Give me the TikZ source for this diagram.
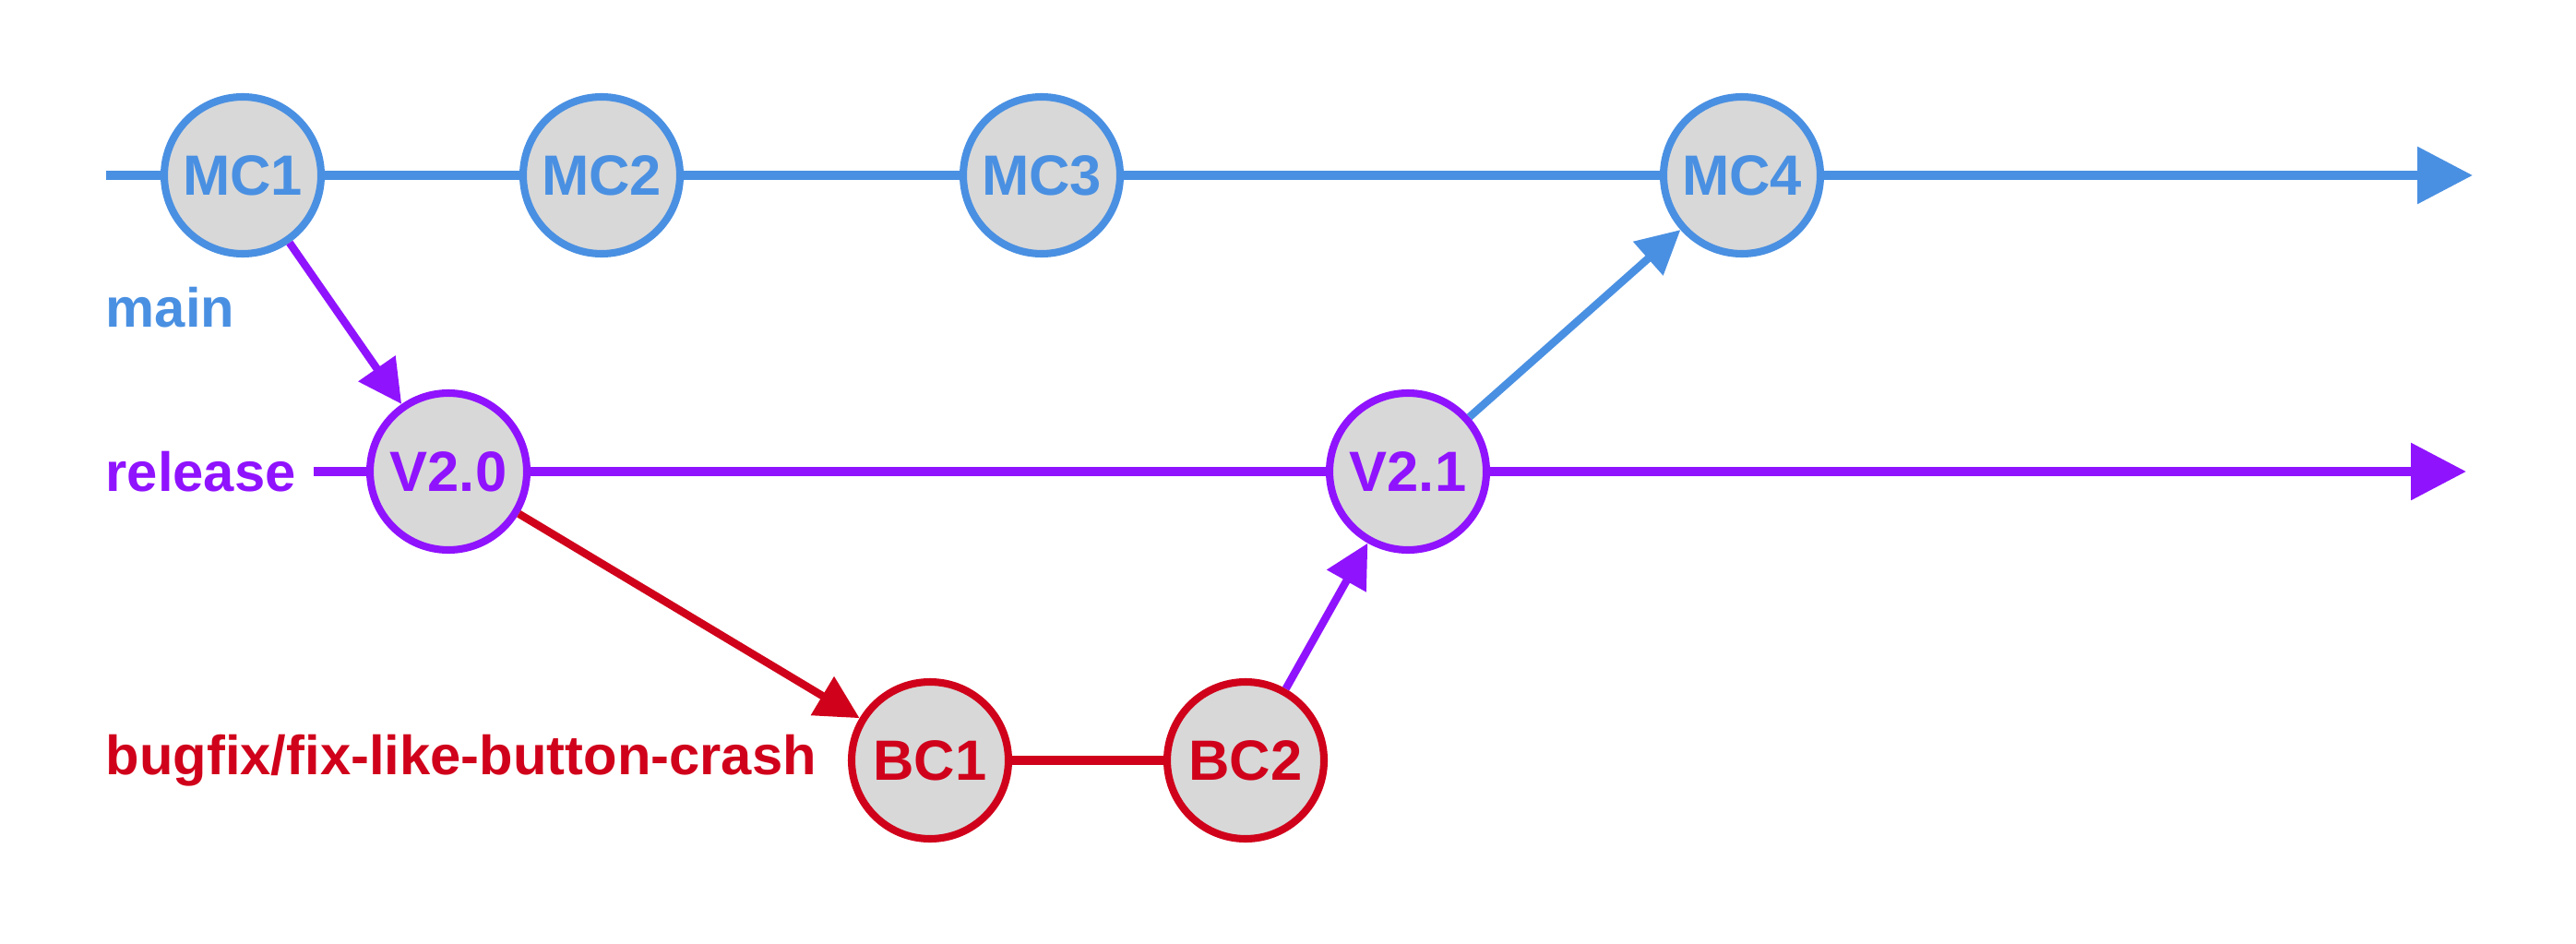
\documentclass[tikz,border=0pt]{standalone}
\usepackage{fontspec}
\setmainfont{Liberation Sans}
\usetikzlibrary{arrows.meta}
\definecolor{mainblue}{HTML}{4A90E2}
\definecolor{relpurple}{HTML}{9013FE}
\definecolor{fixred}{HTML}{D0021B}
\definecolor{commitgrey}{HTML}{D8D8D8}
\tikzset{
    commit/.style = {draw=#1, text=#1, circle, fill=commitgrey,
        line width=2.3pt, minimum size=1.7cm, inner sep=0pt,
        font=\fontsize{17.5}{20}\selectfont\bfseries},
    input/.style = {coordinate},
    output/.style = {coordinate},
    branch/.style = {anchor=west, inner sep=0pt,
        font=\fontsize{17}{20}\selectfont\bfseries},
    arrow/.style = {draw, line width=2.7pt, -{Triangle[length=0.6cm,width=0.6cm]}},
    merge/.style = {draw, line width=2.4pt, -{Triangle[length=0.47cm,width=0.47cm]}},
    line/.style = {draw, line width=2.6pt}
}

\begin{document}
\begin{tikzpicture}[auto, node distance=3cm]
    \useasboundingbox (0,0) rectangle (27.92,-10.22);
    % main
    \node [commit=mainblue, name=mc1] at (2.63,-1.90) {MC1};
    \node [commit=mainblue, right of=mc1, node distance=3.89cm, name=mc2] {MC2};
    \node [commit=mainblue, right of=mc2, node distance=4.77cm, name=mc3] {MC3};
    \node [commit=mainblue, right of=mc3, node distance=7.59cm, name=mc4] {MC4};
    \node [input, left of=mc1, node distance=1.48cm, name=mainstart] {};
    \node [output, right of=mc4, node distance=7.92cm, name=mainend] {};
    \node [branch, text=mainblue, name=mainlabel] at (1.14,-3.33) {main};
    % release
    \node [commit=relpurple, name=v20] at (4.86,-5.11) {V2.0};
    \node [commit=relpurple, right of=v20, node distance=10.40cm, name=v21] {V2.1};
    \node [input, left of=v20, node distance=1.46cm, name=relstart] {};
    \node [output, right of=v21, node distance=11.47cm, name=relend] {};
    \node [branch, text=relpurple, name=rellabel] at (1.14,-5.11) {release};
    % bugfix
    \node [commit=fixred, name=bc1] at (10.08,-8.24) {BC1};
    \node [commit=fixred, right of=bc1, node distance=3.42cm, name=bc2] {BC2};
    \node [branch, text=fixred, name=fixlabel] at (1.14,-8.24) {bugfix/fix-like-button-crash};
    % branch lines
    \draw [arrow, mainblue] (mainstart) -- (mc1) -- (mc2) -- (mc3) -- (mc4) -- (mainend);
    \draw [arrow, relpurple] (relstart) -- (v20) -- (v21) -- (relend);
    \draw [line, fixred] (bc1) -- (bc2);
    \foreach \from/\to/\col in {mc1/v20/relpurple, v20/bc1/fixred, bc2/v21/relpurple, v21/mc4/mainblue}{
        \draw [merge, \col] (\from) -- (\to);
        }
\end{tikzpicture}
\end{document}
